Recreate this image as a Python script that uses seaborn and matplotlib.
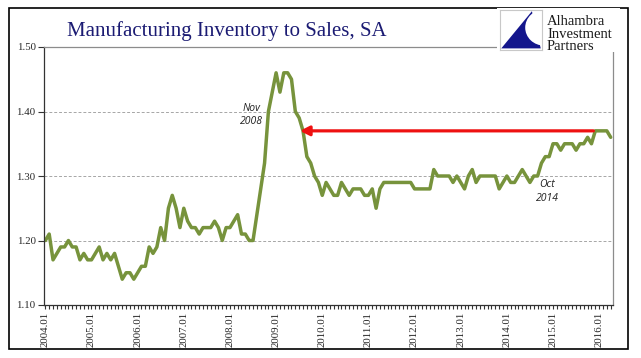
import matplotlib
matplotlib.use("Agg")
import matplotlib.pyplot as plt
import matplotlib.patches as mpatches
from matplotlib.ticker import MultipleLocator, FixedLocator
import seaborn as sns
import pandas as pd

# monthly manufacturing inventory / sales ratio, 2004.01 .. 2016.04
ratio = [
    1.20, 1.21, 1.17, 1.18, 1.19, 1.19, 1.20, 1.19, 1.19, 1.17, 1.18, 1.17,  # 2004
    1.17, 1.18, 1.19, 1.17, 1.18, 1.17, 1.18, 1.16, 1.14, 1.15, 1.15, 1.14,  # 2005
    1.15, 1.16, 1.16, 1.19, 1.18, 1.19, 1.22, 1.20, 1.25, 1.27, 1.25, 1.22,  # 2006
    1.25, 1.23, 1.22, 1.22, 1.21, 1.22, 1.22, 1.22, 1.23, 1.22, 1.20, 1.22,  # 2007
    1.22, 1.23, 1.24, 1.21, 1.21, 1.20, 1.20, 1.24, 1.28, 1.32, 1.40, 1.43,  # 2008
    1.46, 1.43, 1.46, 1.46, 1.45, 1.40, 1.39, 1.37, 1.33, 1.32, 1.30, 1.29,  # 2009
    1.27, 1.29, 1.28, 1.27, 1.27, 1.29, 1.28, 1.27, 1.28, 1.28, 1.28, 1.27,  # 2010
    1.27, 1.28, 1.25, 1.28, 1.29, 1.29, 1.29, 1.29, 1.29, 1.29, 1.29, 1.29,  # 2011
    1.28, 1.28, 1.28, 1.28, 1.28, 1.31, 1.30, 1.30, 1.30, 1.30, 1.29, 1.30,  # 2012
    1.29, 1.28, 1.30, 1.31, 1.29, 1.30, 1.30, 1.30, 1.30, 1.30, 1.28, 1.29,  # 2013
    1.30, 1.29, 1.29, 1.30, 1.31, 1.30, 1.29, 1.30, 1.30, 1.32, 1.33, 1.33,  # 2014
    1.35, 1.35, 1.34, 1.35, 1.35, 1.35, 1.34, 1.35, 1.35, 1.36, 1.35, 1.37,  # 2015
    1.37, 1.37, 1.37, 1.36,                                                  # 2016
]
years = list(range(2004, 2017))
year_labels = [f"{y}.01" for y in years]
y_ticks = [1.10, 1.20, 1.30, 1.40, 1.50]

# red arrow: from late 2015 back to the same level in 2009
arrow_level = 1.37
arrow_start = 142.5
arrow_end = 66.2

title = "Manufacturing Inventory to Sales, SA"
note_nov = ("Nov\n2008", 53.5, 1.395)
note_oct = ("Oct\n2014", 130.5, 1.276)

df = pd.DataFrame({"month": range(len(ratio)), "ratio": ratio})

sns.set_style("white")
plt.rcParams["font.family"] = ["Liberation Serif", "DejaVu Serif"]

W, H = 641, 358
fig = plt.figure(figsize=(W / 100, H / 100), dpi=100)
ax = fig.add_axes([44 / W, 1 - 305 / H, (613 - 44) / W, (305 - 47) / H])

sns.lineplot(data=df, x="month", y="ratio", ax=ax, color="#77933C", linewidth=2.5)

ax.set_xlim(-0.35, 147.6)
ax.set_ylim(1.10, 1.50)
ax.set_xlabel("")
ax.set_ylabel("")

ax.xaxis.set_major_locator(FixedLocator([12 * i for i in range(len(years))]))
ax.set_xticklabels(year_labels, rotation=90, fontsize=7.8)
ax.xaxis.set_minor_locator(MultipleLocator(1))
ax.set_yticks(y_ticks)
ax.set_yticklabels([f"{v:.2f}" for v in y_ticks], fontsize=7.8)
ax.tick_params(axis="x", which="both", direction="out", length=3, width=0.8,
               color="#333333", pad=2, bottom=True)
ax.tick_params(axis="y", which="major", direction="out", length=4, width=0.8,
               color="#333333", pad=2, left=True)

for g in y_ticks[1:-1]:
    ax.axhline(g, color="#A6A6A6", lw=0.7, ls=(0, (3, 2)), zorder=0)

for side in ["left", "bottom"]:
    ax.spines[side].set_color("#333333")
    ax.spines[side].set_linewidth(0.9)
for side in ["top", "right"]:
    ax.spines[side].set_color("#8C8C8C")
    ax.spines[side].set_linewidth(0.9)

ax.annotate("", xy=(arrow_end, arrow_level), xytext=(arrow_start, arrow_level),
            arrowprops=dict(arrowstyle="-|>,head_length=0.55,head_width=0.28",
                            color="#EE1111", lw=2.3, shrinkA=0, shrinkB=0))

for txt, x, y in [note_nov, note_oct]:
    ax.text(x, y, txt, ha="center", va="center", fontsize=7.5, style="italic",
            family=["Open Sans", "DejaVu Sans"], color="#222222", linespacing=1.3)

# outer frame
fig.patches.append(mpatches.Rectangle((9 / W, 1 - 349 / H), (628 - 9) / W, (349 - 8) / H,
                                      transform=fig.transFigure, fill=False,
                                      ec="black", lw=1.2))
# white area behind the logo hides the top-right corner of the plot frame
fig.patches.append(mpatches.Rectangle((497 / W, 1 - 52 / H), (620 - 497) / W, 44 / H,
                                      transform=fig.transFigure, fc="white",
                                      ec="none"))

fig.text(67 / W, 1 - 31 / H, title, fontsize=15, color="#1B1B73",
         ha="left", va="center")

# logo: blue sail shape with a concave white cut on the right
lax = fig.add_axes([500 / W, 1 - 50 / H, 42 / W, 40 / H], zorder=5)
lax.set_xlim(0, 1)
lax.set_ylim(0, 1)
lax.add_patch(mpatches.Polygon([(0.76, 0.97), (0.03, 0.04), (0.97, 0.04)],
                               closed=True, fc="#14168C", ec="none"))
lax.add_patch(mpatches.Circle((1.05, 0.56), 0.45, fc="white", ec="none"))
lax.set_xticks([])
lax.set_yticks([])
for s in lax.spines.values():
    s.set_color("#C8C8C8")
    s.set_linewidth(0.8)

fig.text(547 / W, 1 - 15 / H, "Alhambra\nInvestment\nPartners", fontsize=10.5,
         color="#1A1A1A", ha="left", va="top", linespacing=0.95, zorder=6)

fig.savefig("out.png", dpi=100)
